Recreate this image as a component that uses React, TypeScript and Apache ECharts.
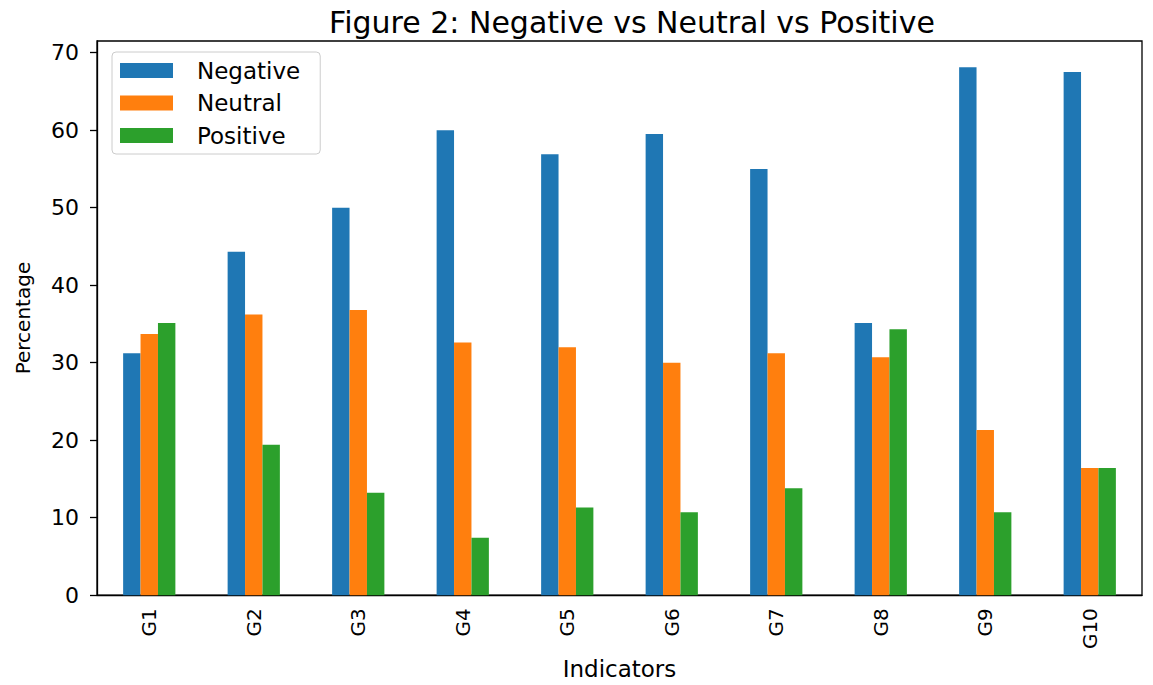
import React, { useEffect, useRef } from "react";
import * as echarts from "echarts";

const categories = ["G1", "G2", "G3", "G4", "G5", "G6", "G7", "G8", "G9", "G10"];
const negative = [31.2, 44.3, 50.0, 60.0, 56.9, 59.5, 55.0, 35.1, 68.1, 67.5];
const neutral = [33.7, 36.2, 36.8, 32.6, 32.0, 30.0, 31.2, 30.7, 21.3, 16.4];
const positive = [35.1, 19.4, 13.2, 7.4, 11.3, 10.7, 13.8, 34.3, 10.7, 16.4];
const seriesNames = ["Negative", "Neutral", "Positive"];
const colors = ["#1f77b4", "#ff7f0e", "#2ca02c"];

const FONT = "DejaVu Sans";

export default function App() {
  const ref = useRef<HTMLDivElement>(null);
  useEffect(() => {
    if (!ref.current) return;
    const chart = echarts.init(ref.current, undefined, { renderer: "svg" });
    const data = [negative, neutral, positive];
    chart.setOption({
      animation: false,
      backgroundColor: "#ffffff",
      textStyle: { fontFamily: FONT },
      title: {
        text: "Figure 2: Negative vs Neutral vs Positive",
        left: 627,
        textAlign: "center",
        top: 2,
        textStyle: { fontFamily: FONT, fontSize: 30, fontWeight: "normal", color: "#000" },
      },
      legend: {
        orient: "vertical",
        left: 112,
        top: 52,
        padding: [7, 20, 7, 8],
        itemWidth: 53,
        itemHeight: 15,
        itemGap: 9.5,
        icon: "rect",
        backgroundColor: "rgba(255,255,255,0.8)",
        borderColor: "#cccccc",
        borderWidth: 1,
        borderRadius: 4,
        textStyle: { fontFamily: FONT, fontSize: 23, color: "#000", padding: [0, 0, 0, 19] },
        data: seriesNames,
      },
      grid: {
        left: 97,
        right: 11,
        top: 41,
        bottom: 87,
        show: true,
        borderColor: "#000",
        borderWidth: 1.3,
        containLabel: false,
      },
      xAxis: {
        type: "category",
        data: categories,
        name: "Indicators",
        nameLocation: "middle",
        nameGap: 60,
        nameTextStyle: { fontFamily: FONT, fontSize: 23, color: "#000" },
        axisLine: { lineStyle: { color: "#000", width: 1.3 } },
        axisTick: { alignWithLabel: true, length: 7, lineStyle: { color: "#000", width: 1.3 } },
        axisLabel: { rotate: 90, interval: 0, margin: 13, fontFamily: FONT, fontSize: 20, color: "#000" },
      },
      yAxis: {
        type: "value",
        min: 0,
        max: 71.5,
        interval: 10,
        name: "Percentage",
        nameLocation: "middle",
        nameGap: 64,
        nameTextStyle: { fontFamily: FONT, fontSize: 20, color: "#000" },
        splitLine: { show: false },
        axisLine: { show: true, lineStyle: { color: "#000", width: 1.3 } },
        axisTick: { show: true, length: 7, lineStyle: { color: "#000", width: 1.3 } },
        axisLabel: {
          margin: 18,
          fontFamily: FONT,
          fontSize: 22,
          color: "#000",
          showMaxLabel: false,
          formatter: (v: number) => (Math.abs(v % 10) < 1e-6 ? String(v) : ""),
        },
      },
      series: seriesNames.map((name, i) => ({
        name,
        type: "bar",
        data: data[i],
        barGap: "0%",
        barCategoryGap: "50%",
        itemStyle: { color: colors[i] },
      })),
    });
    return () => chart.dispose();
  }, []);
  return (
    <div
      ref={ref}
      style={{ position: "fixed", left: 0, top: 0, width: 1153, height: 685 }}
    />
  );
}
